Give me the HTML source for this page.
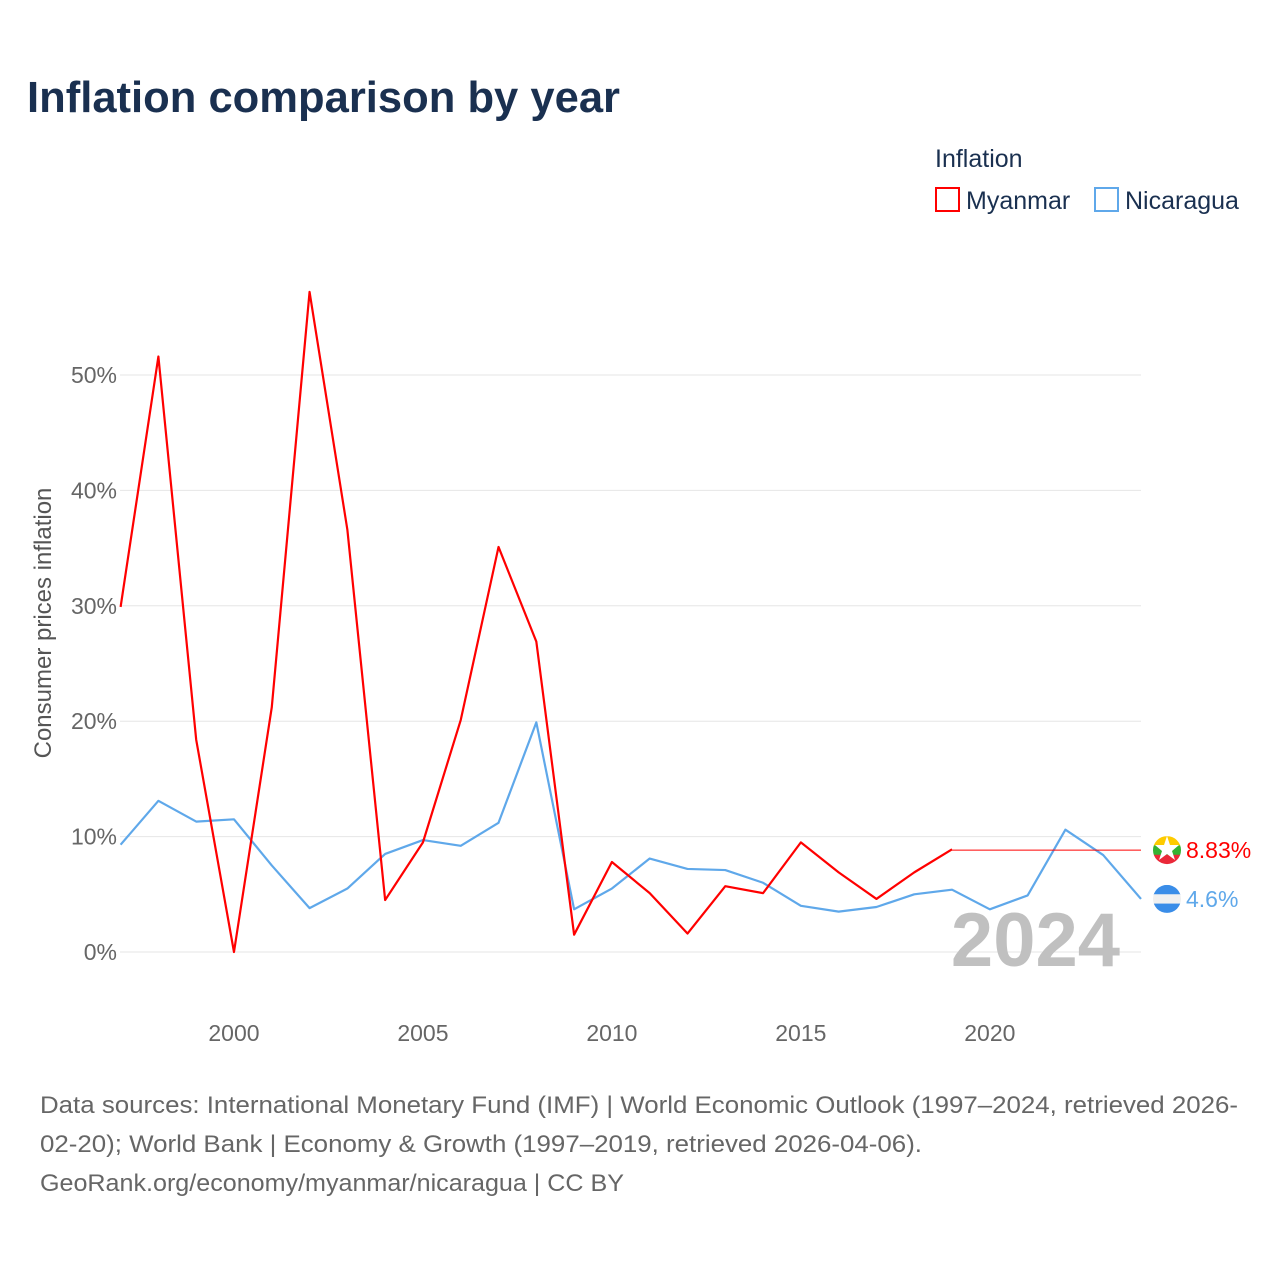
<!DOCTYPE html>
<html><head><meta charset="utf-8">
<style>
body{margin:0;background:#fff;font-family:"Liberation Sans",sans-serif;}
#wrap{position:relative;width:1280px;height:1280px;overflow:hidden}
</style></head>
<body>
<div id="wrap">
<svg id="chart" width="1280" height="1280" xmlns="http://www.w3.org/2000/svg">
<text x="27" y="112" font-size="44" font-weight="bold" fill="#1a3050" textLength="593" lengthAdjust="spacingAndGlyphs">Inflation comparison by year</text>
<text x="935" y="167" font-size="25" fill="#1a3050">Inflation</text>
<g><rect x="936" y="188" width="23" height="23" fill="none" stroke="#f00" stroke-width="2"/><text x="966" y="209" font-size="25" fill="#1a3050">Myanmar</text></g>
<g><rect x="1095" y="188" width="23" height="23" fill="none" stroke="#5fa8ea" stroke-width="2"/><text x="1125" y="209" font-size="25" fill="#1a3050">Nicaragua</text></g>
<g id="grid"></g>
<g id="marks"></g>
<text x="1120" y="966" font-size="76" font-weight="bold" fill="#c0c0c0" text-anchor="end">2024</text>
<text transform="translate(51,623) rotate(-90)" font-size="24" fill="#555" text-anchor="middle">Consumer prices inflation</text>
<g font-size="24" fill="#666">
<text x="40" y="1113" textLength="1198" lengthAdjust="spacingAndGlyphs">Data sources: International Monetary Fund (IMF) | World Economic Outlook (1997–2024, retrieved 2026-</text>
<text x="40" y="1152" textLength="882" lengthAdjust="spacingAndGlyphs">02-20); World Bank | Economy &amp; Growth (1997–2019, retrieved 2026-04-06).</text>
<text x="40" y="1191" textLength="584" lengthAdjust="spacingAndGlyphs">GeoRank.org/economy/myanmar/nicaragua | CC BY</text>
</g>
</svg>
</div>
<script>
const years=[1997,1998,1999,2000,2001,2002,2003,2004,2005,2006,2007,2008,2009,2010,2011,2012,2013,2014,2015,2016,2017,2018,2019,2020,2021,2022,2023,2024];
const myanmar=[29.9,51.6,18.4,0,21.2,57.2,36.6,4.5,9.5,20.1,35.1,26.9,1.5,7.8,5.1,1.6,5.7,5.1,9.5,6.9,4.6,6.9,8.9];
const myanmarLatest=8.83;
const nicaragua=[9.3,13.1,11.3,11.5,7.5,3.8,5.5,8.5,9.7,9.2,11.2,19.9,3.7,5.5,8.1,7.2,7.1,6.0,4.0,3.5,3.9,5.0,5.4,3.7,4.9,10.6,8.4,4.6];
const yTicks=[0,10,20,30,40,50];
const xTicks=[2000,2005,2010,2015,2020];
const NS="http://www.w3.org/2000/svg";
const X=y=>120.6+(y-1997)*(1141-120.6)/27;
const Y=v=>952-v*11.54;
function mk(t,a,p){const e=document.createElementNS(NS,t);for(const k in a)e.setAttribute(k,a[k]);p.appendChild(e);return e;}
const grid=document.getElementById('grid'),marks=document.getElementById('marks');
yTicks.forEach(v=>{
 const l=mk('line',{x1:120,x2:1141,y1:Y(v),y2:Y(v),stroke:'#e6e6e6','stroke-width':1},grid);
 
 
 const t=mk('text',{x:117,y:Y(v)+8,'font-size':23,fill:'#666','text-anchor':'end'},grid);
 t.textContent=v+'%';
 
 
});
xTicks.forEach(v=>{
 const t=mk('text',{x:X(v),y:1041,'font-size':23,fill:'#666','text-anchor':'middle'},grid);
 t.textContent=v;
 
 
});
function pts(arr){return arr.map((v,i)=>X(years[i])+','+Y(v)).join(' ');}
const ln=mk('polyline',{points:pts(nicaragua),fill:'none',stroke:'#5fa8ea','stroke-width':2.2,'stroke-linejoin':'round'},marks);


const lm=mk('polyline',{points:pts(myanmar),fill:'none',stroke:'#f00','stroke-width':2.2,'stroke-linejoin':'round'},marks);


const lp=mk('line',{x1:X(years[myanmar.length-1]),y1:Y(myanmarLatest),x2:X(2024),y2:Y(myanmarLatest),stroke:'#f00','stroke-width':1},marks);


function flag(v,cols,name){
 const cy=Y(v),cx=1167;
 const g=mk('g',{},marks);
 
 
 const id='c'+name;
 const cp=mk('clipPath',{id:id},g);mk('circle',{cx:cx,cy:cy,r:14},cp);
 cols.forEach((c,i)=>mk('rect',{x:cx-14,y:cy-14+i*28/cols.length,width:28,height:28/cols.length+0.5,fill:c,'clip-path':'url(#'+id+')'},g));
 return cy;
}
const cyM=flag(myanmarLatest,['#fecb00','#34b233','#ea2839'],'myanmar-flag');
mk('polygon',{points:'1167,836 1170,845 1179,845 1172,851 1175,860 1167,854 1159,860 1162,851 1155,845 1164,845',fill:'#fff'},marks);
const tm=mk('text',{x:1186,y:cyM+8,'font-size':23,fill:'#f00'},marks);tm.textContent=myanmarLatest+'%';


const nl=nicaragua[nicaragua.length-1];
const cyN=flag(nl,['#3a8de8','#f0f0f0','#3a8de8'],'nicaragua-flag');
const tn=mk('text',{x:1186,y:cyN+8,'font-size':23,fill:'#5fa8ea'},marks);tn.textContent=nl+'%';


</script>
</body></html>
